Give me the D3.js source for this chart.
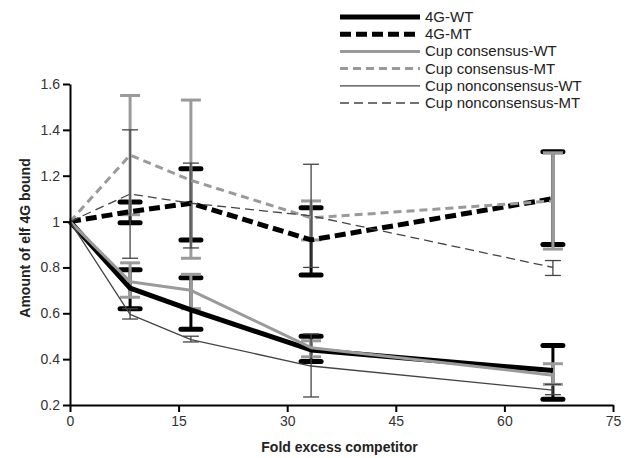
<!DOCTYPE html>
<html>
<head>
<meta charset="utf-8">
<script src="https://cdn.jsdelivr.net/npm/d3@7"></script>
<style>
  body { margin: 0; background: #fff; }
  svg { font-family: "Liberation Sans", Arial, Helvetica, sans-serif; }
</style>
</head>
<body>
<div id="chart-container"></div>
<script>
const fold = [0, 8.3, 16.7, 33.3, 66.7];
const xTicks = [0, 15, 30, 45, 60, 75];
const yTicks = [0.2, 0.4, 0.6, 0.8, 1, 1.2, 1.4, 1.6];

const names = ["4G-WT", "4G-MT", "Cup consensus-WT", "Cup consensus-MT", "Cup nonconsensus-WT", "Cup nonconsensus-MT"];

// means, lower and upper error bar ends (first point has no bar)
const wt4g = [1.0, 0.71, 0.615, 0.44, 0.35];
const wt4gLo = [null, 0.62, 0.53, 0.39, 0.225];
const wt4gHi = [null, 0.79, 0.755, 0.50, 0.46];

const mt4g = [1.0, 1.043, 1.08, 0.92, 1.10];
const mt4gLo = [null, 0.995, 0.92, 0.767, 0.90];
const mt4gHi = [null, 1.085, 1.23, 1.06, 1.305];

const consWT = [1.0, 0.738, 0.70, 0.45, 0.33];
const consWTLo = [null, 0.67, 0.62, 0.41, 0.29];
const consWTHi = [null, 0.82, 0.77, 0.48, 0.38];

const consMT = [1.0, 1.29, 1.18, 1.016, 1.09];
const consMTLo = [null, 1.03, 0.84, 0.92, 0.88];
const consMTHi = [null, 1.55, 1.53, 1.09, 1.30];

const nonWT = [1.0, 0.595, 0.485, 0.37, 0.265];
const nonWTLo = [null, 0.575, 0.475, 0.235, 0.245];
const nonWTHi = [null, 0.62, 0.50, 0.51, 0.29];

const nonMT = [1.0, 1.12, 1.08, 1.025, 0.80];
const nonMTLo = [null, 0.84, 0.885, 0.80, 0.765];
const nonMTHi = [null, 1.40, 1.255, 1.25, 0.83];

const styles = [
  { color: "#000", width: 5, dash: null, barW: 3, capW: 5, cap: 10 },
  { color: "#000", width: 5, dash: "11,5", barW: 3, capW: 5, cap: 10 },
  { color: "#9a9a9a", width: 3, dash: null, barW: 3, capW: 3, cap: 10 },
  { color: "#9a9a9a", width: 3, dash: "8,5", barW: 3, capW: 3, cap: 10 },
  { color: "#444", width: 1.3, dash: null, barW: 1.3, capW: 1.3, cap: 8 },
  { color: "#444", width: 1.3, dash: "9,5", barW: 1.3, capW: 1.3, cap: 8 }
];

const series = [
  [wt4g, wt4gLo, wt4gHi], [mt4g, mt4gLo, mt4gHi],
  [consWT, consWTLo, consWTHi], [consMT, consMTLo, consMTHi],
  [nonWT, nonWTLo, nonWTHi], [nonMT, nonMTLo, nonMTHi]
].map((s, k) => ({
  name: names[k],
  style: styles[k],
  points: fold.map((f, i) => ({ x: f, y: s[0][i], lo: s[1][i], hi: s[2][i] }))
}));

const margin = { top: 84, right: 17, bottom: 53, left: 70 };
const width = 630 - margin.left - margin.right;
const height = 458 - margin.top - margin.bottom;

const x = d3.scaleLinear().domain([0, 75]).range([0, width]);
const y = d3.scaleLinear().domain([0.2, 1.6]).range([height, 0]);

const svg = d3.select("#chart-container")
  .append("svg")
  .attr("width", 630)
  .attr("height", 458);

const g = svg.append("g")
  .attr("transform", `translate(${margin.left},${margin.top})`);

const line = d3.line()
  .x(d => x(d.x))
  .y(d => y(d.y));

// error bars first, then lines
series.forEach(s => {
  const st = s.style;
  const bars = g.append("g").attr("stroke", st.color).attr("fill", "none");
  s.points.filter(d => d.lo !== null).forEach(d => {
    bars.append("line")
      .attr("x1", x(d.x)).attr("x2", x(d.x))
      .attr("y1", y(d.lo)).attr("y2", y(d.hi))
      .attr("stroke-width", st.barW);
    [d.lo, d.hi].forEach(v => {
      bars.append("line")
        .attr("x1", x(d.x) - st.cap).attr("x2", x(d.x) + st.cap)
        .attr("y1", y(v)).attr("y2", y(v))
        .attr("stroke-width", st.capW)
        .attr("stroke-linecap", st.capW > 4 ? "round" : "butt");
    });
  });
});

series.forEach(s => {
  g.append("path")
    .datum(s.points)
    .attr("fill", "none")
    .attr("stroke", s.style.color)
    .attr("stroke-width", s.style.width)
    .attr("stroke-dasharray", s.style.dash)
    .attr("stroke-linejoin", "round")
    .attr("d", line);
});

// axes
const xAxis = g.append("g")
  .attr("transform", `translate(0,${height})`)
  .call(d3.axisBottom(x).tickValues(xTicks).tickSize(7).tickSizeOuter(0).tickPadding(4));

const yAxis = g.append("g")
  .call(d3.axisLeft(y).tickValues(yTicks).tickSize(7).tickSizeOuter(0).tickPadding(3)
    .tickFormat(d3.format("~g")));

[xAxis, yAxis].forEach(a => {
  a.select(".domain").attr("stroke", "#000").attr("stroke-width", 2);
  a.selectAll(".tick line").attr("stroke", "#000").attr("stroke-width", 2);
  a.selectAll(".tick text").attr("fill", "#333").style("font-size", "14px");
});

svg.append("text")
  .attr("x", margin.left + width / 2 - 2)
  .attr("y", 452)
  .attr("text-anchor", "middle")
  .style("font-size", "14px")
  .style("font-weight", "bold")
  .attr("fill", "#222")
  .text("Fold excess competitor");

svg.append("text")
  .attr("transform", "rotate(-90)")
  .attr("x", -238)
  .attr("y", 30)
  .attr("text-anchor", "middle")
  .style("font-size", "14px")
  .style("font-weight", "bold")
  .attr("fill", "#222")
  .text("Amount of elf 4G bound");

// legend
const legend = svg.append("g").attr("transform", "translate(340,17)");
series.forEach((s, i) => {
  const row = legend.append("g").attr("transform", `translate(0,${i * 17.2})`);
  row.append("line")
    .attr("x1", 0).attr("x2", 80)
    .attr("stroke", s.style.color)
    .attr("stroke-width", s.style.width)
    .attr("stroke-dasharray", s.style.dash);
  row.append("text")
    .attr("x", 85)
    .attr("y", 5)
    .attr("fill", "#222")
    .style("font-size", "15px")
    .text(s.name);
});
</script>
</body>
</html>
